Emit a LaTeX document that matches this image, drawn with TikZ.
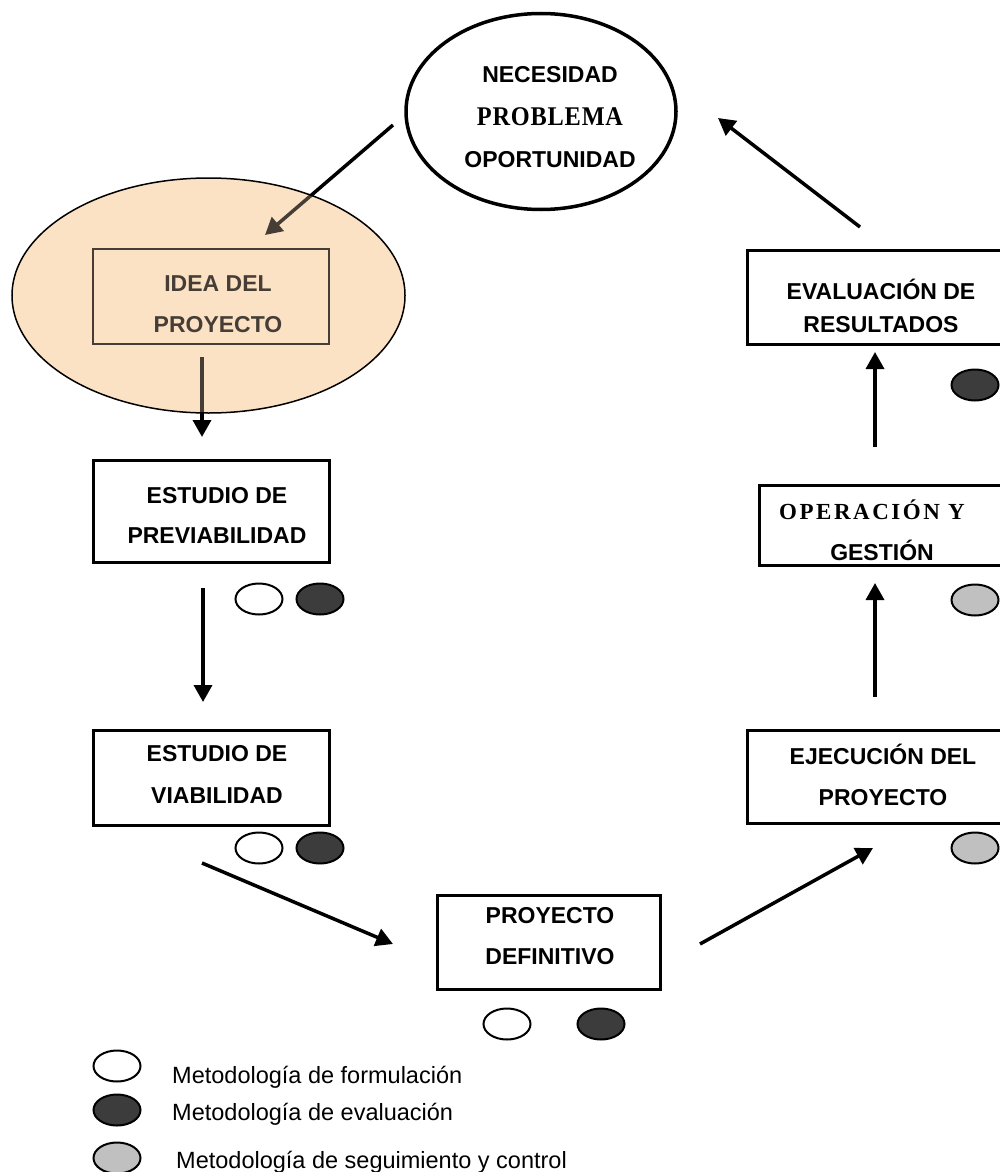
\documentclass[tikz,border=0pt]{standalone}
\usepackage{fontspec}
\setmainfont{Liberation Sans}
\newfontfamily\probfont[LetterSpace=3,FakeStretch=0.9]{Liberation Serif}
\newfontfamily\operfont[LetterSpace=11]{Liberation Serif}
\usetikzlibrary{shapes.geometric,arrows.meta}
\definecolor{peachfill}{RGB}{252,226,196}
\definecolor{darkdot}{RGB}{60,60,60}
\definecolor{greydot}{RGB}{192,192,192}

\tikzset{
  stagebox/.style={draw, line width=3pt, inner sep=0pt},
  stagetext/.style={font=\fontsize{23}{41}\selectfont\bfseries, align=center, inner sep=0pt},
  dot/.style={ellipse, draw, line width=2pt, minimum width=47pt, minimum height=31pt, inner sep=0pt},
  wdot/.style={dot, fill=white},
  ddot/.style={dot, fill=darkdot},
  gdot/.style={dot, fill=greydot},
  flow/.style={line width=3.5pt, -{Triangle[length=17pt,width=18pt]}},
  legendtext/.style={font=\fontsize{23.5}{28}\selectfont, anchor=base west, inner sep=0pt},
}

\begin{document}
\begin{tikzpicture}[x=1pt,y=-1pt]
\useasboundingbox (0,0) rectangle (999,1172);

% shaded idea region
\node[ellipse, fill=peachfill, minimum width=393pt, minimum height=235pt, inner sep=0pt] (peach) at (208.5,295.5) {};
\node[stagebox, line width=2.5pt, minimum width=236pt, minimum height=95pt] (idea) at (211,296.5) {};
\node[stagetext, font=\fontsize{23}{41}\selectfont\bfseries] (ideat) at (218,304.5) {IDEA DEL\\PROYECTO};

% starting need
\node[ellipse, draw, line width=3.5pt, minimum width=270pt, minimum height=196pt, inner sep=0pt] (nec) at (541,111.5) {};
\node[stagetext, font=\fontsize{23}{42.5}\selectfont\bfseries] (nect) at (550,117.5)
  {NECESIDAD\\{\fontsize{27}{42.5}\selectfont\probfont PROBLEMA}\\OPORTUNIDAD};

% project stages
\node[stagebox, minimum width=236pt, minimum height=102pt] (pre) at (211,511) {};
\node[stagetext, font=\fontsize{23}{40}\selectfont\bfseries] (pret) at (217,515) {ESTUDIO DE\\PREVIABILIDAD};

\node[stagebox, minimum width=236pt, minimum height=95pt] (via) at (211,777.5) {};
\node[stagetext, font=\fontsize{23}{42}\selectfont\bfseries] (viat) at (217,774) {ESTUDIO DE\\VIABILIDAD};

\node[stagebox, minimum width=223pt, minimum height=94pt] (def) at (548.5,942) {};
\node[stagetext] (deft) at (550,936.5) {PROYECTO\\DEFINITIVO};

\node[stagebox, minimum width=268pt, minimum height=93pt] (eje) at (881,776.5) {};
\node[stagetext] (ejet) at (883,775) {EJECUCIÓN DEL\\PROYECTO};

\node[stagebox, minimum width=256pt, minimum height=80pt] (op) at (887,525) {};
\node[stagetext] (opt) at (877,530)
  {{\fontsize{23}{41}\selectfont\operfont OPERACIÓN Y}\hspace*{10pt}\\\hspace*{10pt}GESTIÓN};

\node[stagebox, minimum width=268pt, minimum height=94pt] (eval) at (881,297) {};
\node[stagetext, font=\fontsize{23}{33}\selectfont\bfseries] (evalt) at (881,306) {EVALUACIÓN DE\\RESULTADOS};

% connector end points
\coordinate (a1s) at (393,125);  \coordinate (a1e) at (265,235);
\coordinate (a2s) at (202,357);  \coordinate (a2e) at (202,437);
\coordinate (a3s) at (203,588);  \coordinate (a3e) at (203,702);
\coordinate (a4s) at (202,863);  \coordinate (a4e) at (393,944);
\coordinate (a5s) at (700,944);  \coordinate (a5e) at (873,848);
\coordinate (a6s) at (875,697);  \coordinate (a6e) at (875,583);
\coordinate (a7s) at (875,447);  \coordinate (a7e) at (875,352);
\coordinate (a8s) at (860,227);  \coordinate (a8e) at (718,118);

\draw[flow] (a1s) -- (a1e);
\draw[flow] (a2s) -- (a2e);
\draw[flow] (a3s) -- (a3e);
\draw[flow] (a4s) -- (a4e);
\draw[flow] (a5s) -- (a5e);
\draw[flow] (a6s) -- (a6e);
\draw[flow] (a7s) -- (a7e);
\draw[flow] (a8s) -- (a8e);

% tint over the idea region, then its outline
\fill[peachfill, fill opacity=0.28] (peach.center) ellipse [x radius=196.5pt, y radius=117.5pt];
\draw[line width=1.5pt] (peach.center) ellipse [x radius=196.5pt, y radius=117.5pt];

% methodology markers
\node[wdot] (pw) at (259,599) {};
\node[ddot] (pd) at (320,599) {};
\node[wdot] (vw) at (259,848) {};
\node[ddot] (vd) at (320,848) {};
\node[wdot] (dw) at (507,1024) {};
\node[ddot] (dd) at (601,1024) {};
\node[ddot] (evd) at (975,385) {};
\node[gdot] (opg) at (975,600) {};
\node[gdot] (ejg) at (975,848) {};

% legend
\node[wdot] (lw) at (117,1066) {};
\node[ddot] (ld) at (117,1110) {};
\node[gdot] (lg) at (117,1158) {};
\node[legendtext] (lwt) at (172,1083) {Metodología de formulación};
\node[legendtext] (ldt) at (172,1120) {Metodología de evaluación};
\node[legendtext] (lgt) at (176,1168) {Metodología de seguimiento y control};
\end{tikzpicture}
\end{document}
